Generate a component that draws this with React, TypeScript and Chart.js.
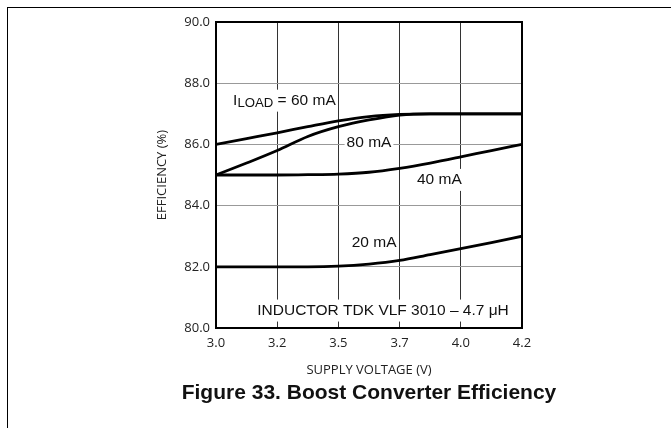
import React, { useEffect, useRef } from 'react';
import { Chart, registerables } from 'chart.js';

Chart.register(...registerables);

// ---- data ----
const voltages = [3.0, 3.12, 3.24, 3.36, 3.48, 3.6, 3.72, 3.84, 3.96, 4.08, 4.2];
const eff20mA = [82.0, 82.0, 82.0, 82.0, 82.02, 82.09, 82.21, 82.4, 82.59, 82.79, 83.0];
const eff40mA = [85.0, 85.0, 85.0, 85.01, 85.03, 85.09, 85.22, 85.39, 85.59, 85.8, 86.0];
const eff60mA = [86.0, 86.19, 86.38, 86.58, 86.77, 86.91, 86.98, 87.0, 87.0, 87.0, 87.0];
const eff80mA = [85.0, 85.39, 85.8, 86.26, 86.58, 86.8, 86.96, 87.0, 87.0, 87.0, 87.0];
const seriesNames = ['20 mA', '40 mA', '60 mA', '80 mA'];
const xTickLabels = ['3.0', '3.2', '3.5', '3.7', '4.0', '4.2'];
const yTickLabels = ['80.0', '82.0', '84.0', '86.0', '88.0', '90.0'];

const xTitle = 'SUPPLY VOLTAGE (V)';
const yTitle = 'EFFICIENCY (%)';
const caption = 'Figure 33. Boost Converter Efficiency';

// curve labels (anchored in data coordinates)
type Part = { text: string; size: number; dy?: number };
const curveLabels: { parts: Part[]; x: number; y: number; align: 'left' | 'center' }[] = [
  {
    parts: [
      { text: 'I', size: 15.5 },
      { text: 'LOAD', size: 13.2, dy: 3 },
      { text: ' = 60 mA', size: 15.5 },
    ],
    x: 3.067,
    y: 87.43,
    align: 'left',
  },
  { parts: [{ text: '80 mA', size: 15.5 }], x: 3.6, y: 86.07, align: 'center' },
  { parts: [{ text: '40 mA', size: 15.5 }], x: 3.876, y: 84.84, align: 'center' },
  { parts: [{ text: '20 mA', size: 15.5 }], x: 3.62, y: 82.8, align: 'center' },
  { parts: [{ text: 'INDUCTOR TDK VLF 3010 \u2013 4.7 \u03bcH', size: 15.5 }], x: 3.655, y: 80.57, align: 'center' },
];

const LABEL_FONT = '"Liberation Sans", Arial, Helvetica, sans-serif';

export default function App() {
  const ref = useRef<HTMLCanvasElement>(null);

  useEffect(() => {
    const canvas = ref.current;
    if (!canvas) return;

    const labelPlugin = {
      id: 'curveLabels',
      beforeDatasetsDraw(chart: any) {
        const { ctx, scales } = chart;
        const xs = scales.x;
        const ys = scales.y;
        ctx.save();
        for (const a of curveLabels) {
          let total = 0;
          const widths = a.parts.map((p) => {
            ctx.font = `${p.size}px ${LABEL_FONT}`;
            const w = ctx.measureText(p.text).width;
            total += w;
            return w;
          });
          const px = xs.getPixelForValue(a.x);
          const py = ys.getPixelForValue(a.y);
          const left = a.align === 'left' ? px : px - total / 2;
          ctx.fillStyle = '#ffffff';
          ctx.fillRect(left - 2, py - 11, total + 4, 22);
          ctx.fillStyle = '#111111';
          ctx.textBaseline = 'middle';
          ctx.textAlign = 'left';
          let cx = left;
          a.parts.forEach((p, i) => {
            ctx.font = `${p.size}px ${LABEL_FONT}`;
            ctx.fillText(p.text, cx, py + (p.dy || 0));
            cx += widths[i];
          });
        }
        ctx.restore();
      },
    };

    const framePlugin = {
      id: 'plotFrame',
      afterDraw(chart: any) {
        const { ctx, chartArea } = chart;
        ctx.save();
        ctx.strokeStyle = '#000';
        ctx.lineWidth = 2;
        ctx.strokeRect(chartArea.left, chartArea.top, chartArea.right - chartArea.left, chartArea.bottom - chartArea.top);
        // figure caption, centred under the plot
        ctx.fillStyle = '#111';
        ctx.font = `bold 21px ${LABEL_FONT}`;
        ctx.textAlign = 'center';
        ctx.textBaseline = 'middle';
        ctx.fillText(caption, (chartArea.left + chartArea.right) / 2, chartArea.bottom + 65);
        ctx.restore();
      },
    };

    const seriesValues = [eff20mA, eff40mA, eff60mA, eff80mA];

    const chart = new Chart(canvas, {
      type: 'line',
      data: {
        datasets: seriesValues.map((vals, i) => ({
          label: seriesNames[i],
          data: voltages.map((v, j) => ({ x: v, y: vals[j] })),
          borderColor: '#000',
          borderWidth: 2.8,
          pointRadius: 0,
          fill: false,
          cubicInterpolationMode: 'monotone' as const,
        })),
      },
      options: {
        animation: false,
        responsive: false,
        events: [],
        layout: { padding: { left: 146, right: 149, top: 22, bottom: 47.9 } },
        plugins: {
          legend: { display: false },
          tooltip: { enabled: false },
          title: { display: false },
        },
        scales: {
          x: {
            type: 'linear',
            min: 3.0,
            max: 4.2,
            afterFit: (s: any) => {
              s.height = 52.1;
            },
            ticks: {
              stepSize: 0.24,
              padding: 7,
              color: '#222',
              font: { family: '"Open Sans", sans-serif', size: 13 },
              callback: (_v: any, i: number) => xTickLabels[i],
              maxRotation: 0,
              autoSkip: false,
            },
            grid: { color: '#333', lineWidth: 1, drawTicks: false },
            border: { display: false },
            title: {
              display: true,
              text: xTitle,
              color: '#222',
              padding: { top: 0, bottom: 2.3 },
              font: { family: '"Open Sans", sans-serif', size: 13, lineHeight: 1.2 },
            },
          },
          y: {
            type: 'linear',
            min: 80,
            max: 90,
            afterFit: (s: any) => {
              s.width = 70;
            },
            ticks: {
              stepSize: 2,
              padding: 6,
              color: '#222',
              font: { family: '"Open Sans", sans-serif', size: 13 },
              callback: (_v: any, i: number) => yTickLabels[i],
            },
            grid: { color: '#999', lineWidth: 1, drawTicks: false },
            border: { display: false },
            title: {
              display: true,
              text: yTitle,
              color: '#222',
              padding: { top: 8, bottom: 0 },
              font: { family: '"Open Sans", sans-serif', size: 13, lineHeight: 1.2 },
            },
          },
        },
      },
      plugins: [labelPlugin, framePlugin],
    } as any);

    return () => chart.destroy();
  }, []);

  return (
    <div style={{ position: 'fixed', left: 0, top: 0, width: 671, height: 428, background: '#fff', overflow: 'hidden' }}>
      <div style={{ position: 'absolute', left: 7, top: 7, width: 664, height: 1, background: '#000' }} />
      <div style={{ position: 'absolute', left: 7, top: 7, width: 1, height: 421, background: '#000' }} />
      <canvas ref={ref} width={671} height={428} style={{ position: 'absolute', left: 0, top: 0 }} />
    </div>
  );
}
